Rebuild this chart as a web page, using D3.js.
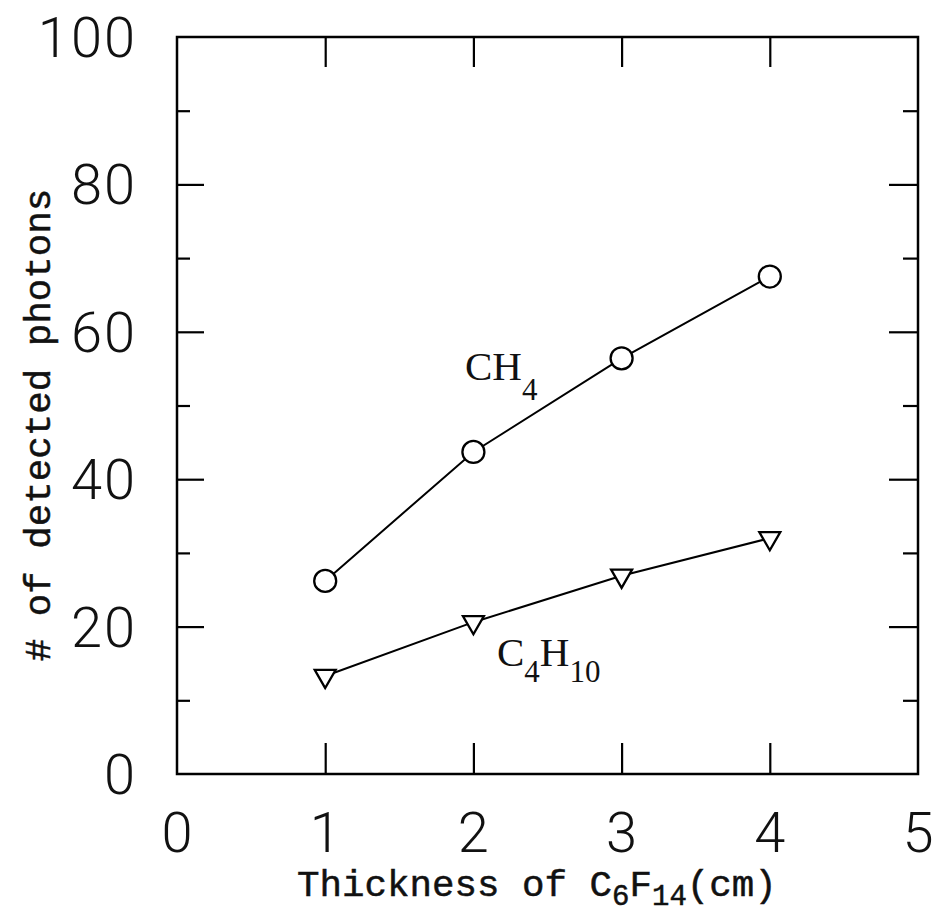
<!DOCTYPE html>
<html>
<head>
<meta charset="utf-8">
<script src="https://cdn.jsdelivr.net/npm/d3@7"></script>
<style>
body { margin: 0; background: #fff; }
svg { display: block; }
.tick line { stroke: #000; stroke-width: 2.2; }
.num text { font-family: Roboto, Lato, "Open Sans", sans-serif; font-weight: 300; font-size: 56px; fill: #111; }
.ttl { font-family: "Liberation Mono", "DejaVu Sans Mono", monospace; font-size: 37.5px; fill: #111; stroke: #111; stroke-width: 0.5; }
.lbl { font-family: "Liberation Serif", "DejaVu Serif", serif; font-size: 41px; fill: #111; }
</style>
</head>
<body>
<svg width="935" height="916"></svg>
<script>
var thickness = [1, 2, 3, 4];
var ch4 = [26.2, 43.7, 56.4, 67.5];
var c4h10 = [13.3, 20.6, 26.9, 32.0];
var xTicks = [0, 1, 2, 3, 4, 5];
var yTicks = [0, 20, 40, 60, 80, 100];
var yMinor = [10, 30, 50, 70, 90];

var svg = d3.select("svg");
var L = 177, R = 918, T = 37, B = 774;

var x = d3.scaleLinear().domain([0, 5]).range([L, R]);
var y = d3.scaleLinear().domain([0, 100]).range([B, T]);

// tick marks, all pointing into the frame
function ticks(axis, tx, ty) {
    var g = svg.append("g").attr("transform", "translate(" + tx + "," + ty + ")").call(axis);
    g.select(".domain").remove();
    g.selectAll("text").remove();
}
ticks(d3.axisBottom(x).tickValues([1, 2, 3, 4]).tickSize(-31), 0, B);
ticks(d3.axisTop(x).tickValues([1, 2, 3, 4]).tickSize(-30), 0, T);
ticks(d3.axisLeft(y).tickValues([20, 40, 60, 80]).tickSize(-27), L, 0);
ticks(d3.axisLeft(y).tickValues(yMinor).tickSize(-13), L, 0);
ticks(d3.axisRight(y).tickValues([20, 40, 60, 80]).tickSize(-29), R, 0);
ticks(d3.axisRight(y).tickValues(yMinor).tickSize(-15), R, 0);

svg.append("rect")
    .attr("x", L).attr("y", T)
    .attr("width", R - L).attr("height", B - T)
    .attr("fill", "none").attr("stroke", "#000").attr("stroke-width", 2.5);

// tick labels
var num = svg.append("g").attr("class", "num");
num.selectAll(".xl").data(xTicks).enter().append("text")
    .attr("x", function(d){ return x(d); })
    .attr("y", 852)
    .attr("text-anchor", "middle")
    .text(function(d){ return d; });
num.selectAll(".yl").data(yTicks).enter().append("text")
    .attr("x", 137)
    .attr("y", function(d){ return y(d) + 20; })
    .attr("text-anchor", "end")
    .attr("letter-spacing", 2)
    .text(function(d){ return d; });

// axis titles
var xt = svg.append("text").attr("class", "ttl").attr("x", 297).attr("y", 896);
xt.append("tspan").text("Thickness of C");
xt.append("tspan").attr("dy", 9).attr("font-size", 29).text("6");
xt.append("tspan").attr("dy", -9).text("F");
xt.append("tspan").attr("dy", 9).attr("font-size", 29).text("14");
xt.append("tspan").attr("dy", -9).text("(cm)");

svg.append("text").attr("class", "ttl")
    .attr("transform", "translate(50,425) rotate(-90)")
    .attr("text-anchor", "middle")
    .text("# of detected photons");

// lines
var line = d3.line()
    .x(function(d, i){ return x(thickness[i]); })
    .y(function(d){ return y(d); });

[ch4, c4h10].forEach(function(s){
    svg.append("path").datum(s)
        .attr("d", line)
        .attr("fill", "none")
        .attr("stroke", "#000")
        .attr("stroke-width", 2);
});

// markers
svg.selectAll(".ch4").data(ch4).enter().append("circle")
    .attr("cx", function(d, i){ return x(thickness[i]); })
    .attr("cy", function(d){ return y(d); })
    .attr("r", 11)
    .attr("fill", "#fff").attr("stroke", "#000").attr("stroke-width", 2.3);

var tri = d3.symbol().type(d3.symbolTriangle).size(190);
svg.selectAll(".c4").data(c4h10).enter().append("path")
    .attr("d", tri)
    .attr("transform", function(d, i){ return "translate(" + x(thickness[i]) + "," + y(d) + ") rotate(180)"; })
    .attr("fill", "#fff").attr("stroke", "#000").attr("stroke-width", 2.3);

// series labels
var a = svg.append("text").attr("class", "lbl").attr("x", 465).attr("y", 380);
a.append("tspan").text("CH");
a.append("tspan").attr("dy", 20).attr("font-size", 31).text("4");

var b = svg.append("text").attr("class", "lbl").attr("x", 497).attr("y", 666);
b.append("tspan").text("C");
b.append("tspan").attr("dy", 16).attr("font-size", 31).text("4");
b.append("tspan").attr("dy", -16).text("H");
b.append("tspan").attr("dy", 16).attr("font-size", 31).text("10");
</script>
</body>
</html>
